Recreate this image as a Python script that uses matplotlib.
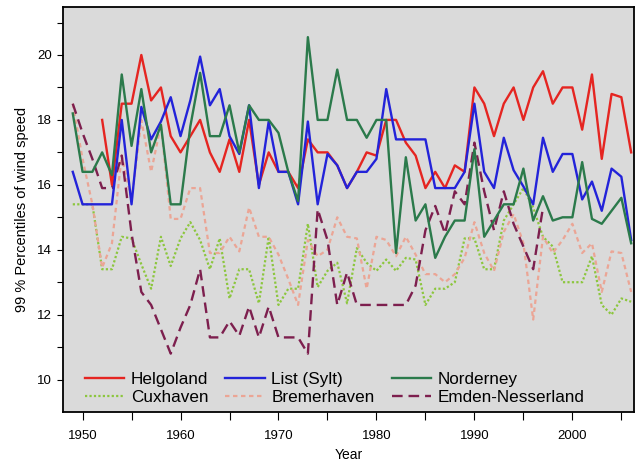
import numpy as np
import matplotlib
matplotlib.use('Agg')
import matplotlib.pyplot as plt

plt.rcParams['font.family'] = ['Liberation Sans', 'DejaVu Sans']

years = np.arange(1949, 2007)
nan = np.nan

helgoland = [nan, nan, nan, 18.0, 16.0, 18.5, 18.5, 20.0, 18.6, 19.0,
             17.5, 17.0, 17.5, 18.0, 17.0, 16.4, 17.4, 16.4, 18.0, 16.0,
             17.0, 16.4, 16.4, 15.9, 17.4, 17.0, 17.0, 16.6, 15.9, 16.4,
             17.0, 16.9, 18.0, 18.0, 17.3, 16.9, 15.9, 16.4, 15.9, 16.6,
             16.4, 19.0, 18.5, 17.5, 18.5, 19.0, 18.0, 19.0, 19.5, 18.5,
             19.0, 19.0, 17.7, 19.4, 16.8, 18.8, 18.7, 17.0]
list_sylt = [16.4, 15.4, 15.4, 15.4, 15.4, 18.0, 15.4, 18.4, 17.4, 17.95,
             18.7, 17.5, 18.6, 19.95, 18.45, 18.95, 17.5, 16.95, 18.45, 15.9,
             17.95, 16.4, 16.4, 15.4, 17.95, 15.4, 16.95, 16.6, 15.9, 16.4,
             16.4, 16.8, 18.95, 17.4, 17.4, 17.4, 17.4, 15.9, 15.9, 15.9,
             16.4, 18.5, 16.4, 15.9, 17.45, 16.45, 15.95, 15.4, 17.45, 16.4,
             16.95, 16.95, 15.55, 16.1, 15.2, 16.5, 16.25, 14.3]
norderney = [18.2, 16.4, 16.4, 17.0, 16.3, 19.4, 17.2, 18.95, 17.0, 17.85,
             15.4, 15.4, 17.8, 19.45, 17.5, 17.5, 18.45, 17.0, 18.45, 18.0,
             18.0, 17.6, 16.4, 15.5, 20.55, 18.0, 18.0, 19.55, 18.0, 18.0,
             17.45, 18.0, 18.0, 13.9, 16.85, 14.9, 15.4, 13.75, 14.4, 14.9,
             14.9, 17.1, 14.4, 14.9, 15.4, 15.4, 16.5, 14.9, 15.65, 14.9,
             15.0, 15.0, 16.7, 14.95, 14.8, 15.2, 15.6, 14.2]
cuxhaven = [15.4, 15.4, 15.4, 13.4, 13.4, 14.4, 14.35, 13.55, 12.8, 14.4,
            13.5, 14.35, 14.85, 14.3, 13.4, 14.35, 12.5, 13.4, 13.4, 12.35,
            14.4, 12.3, 12.8, 12.8, 14.8, 12.85, 13.35, 13.6, 12.35, 14.05,
            13.6, 13.35, 13.7, 13.35, 13.75, 13.7, 12.3, 12.8, 12.8, 13.0,
            14.35, 14.35, 13.4, 13.4, 14.9, 15.4, 15.9, 15.3, 14.4, 14.1,
            13.0, 13.0, 13.0, 13.8, 12.3, 12.0, 12.5, 12.4]
bremerhaven = [18.5, 16.8, 15.4, 13.45, 14.2, 16.9, 15.5, 18.0, 16.4, 17.85,
               14.95, 14.95, 15.9, 15.9, 13.9, 13.9, 14.4, 13.95, 15.3, 14.4,
               14.4, 13.85, 13.1, 12.3, 14.3, 13.8, 14.0, 15.0, 14.4, 14.35,
               12.8, 14.4, 14.3, 13.8, 14.4, 13.85, 13.25, 13.25, 13.0, 13.25,
               13.75, 14.85, 13.9, 13.35, 14.55, 15.1, 14.2, 11.85, 14.4, 13.9,
               14.3, 14.8, 13.9, 14.2, 12.7, 13.95, 13.9, 12.7]
emden = [18.5, 17.6, 16.8, 15.9, 15.9, 16.9, 14.5, 12.7, 12.3, 11.55,
         10.8, 11.6, 12.3, 13.4, 11.3, 11.3, 11.8, 11.35, 12.25, 11.3,
         12.25, 11.3, 11.3, 11.3, 10.8, 15.25, 14.3, 12.3, 13.3, 12.3,
         12.3, 12.3, 12.3, 12.3, 12.3, 12.9, 14.6, 15.35, 14.5, 15.8,
         15.4, 17.3, 15.8, 14.6, 15.8, 14.8, 14.1, 13.4, 15.3, nan,
         nan, nan, nan, nan, nan, nan, nan, nan]

fig = plt.figure(figsize=(6.36, 4.63), dpi=100)
ax = fig.add_axes([0.099, 0.110, 0.898, 0.875])
ax.set_facecolor('#dadada')

l_helg, = ax.plot(years, helgoland, color='#e52521', lw=1.7, label='Helgoland', zorder=3)
l_cux, = ax.plot(years, cuxhaven, color='#8cc63e', lw=1.6, ls=(0, (1, 1)), label='Cuxhaven')
l_list, = ax.plot(years, list_sylt, color='#2323d9', lw=1.7, label='List (Sylt)', zorder=3)
l_brem, = ax.plot(years, bremerhaven, color='#eba595', lw=1.6, ls=(0, (2, 1.6)), label='Bremerhaven')
l_nord, = ax.plot(years, norderney, color='#2b7a4b', lw=1.7, label='Norderney', zorder=3)
l_emd, = ax.plot(years, emden, color='#7d1f4e', lw=1.7, ls=(0, (4.5, 2.5)), label='Emden-Nesserland')

ax.set_xlim(1948, 2006.3)
ax.set_ylim(9.0, 21.48)

xt = np.arange(1950, 2006, 5)
ax.set_xticks(xt)
ax.set_xticklabels([str(t) if t % 10 == 0 else '' for t in xt], fontsize=9.5)
yt = np.arange(10, 22, 1)
ax.set_yticks(yt)
ax.set_yticklabels([str(t) if t % 2 == 0 else '' for t in yt], fontsize=9.5)
ax.tick_params(axis='x', direction='out', length=6, width=0.8, pad=7)
ax.tick_params(axis='y', direction='out', length=4.5, width=0.8, pad=3.5)

for s in ax.spines.values():
    s.set_linewidth(1.3)

ax.set_xlabel('Year', fontsize=10, labelpad=4)
ax.set_ylabel('99 % Percentiles of wind speed', fontsize=10.5, labelpad=6)

leg = ax.legend(handles=[l_helg, l_cux, l_list, l_brem, l_nord, l_emd],
                ncol=3, loc='lower left', bbox_to_anchor=(0.026, 0.0),
                borderaxespad=0, frameon=False, fontsize=12.3,
                handlelength=2.3, columnspacing=1.0, handletextpad=0.4,
                labelspacing=0.18)

fig.savefig('out.png', dpi=100)
